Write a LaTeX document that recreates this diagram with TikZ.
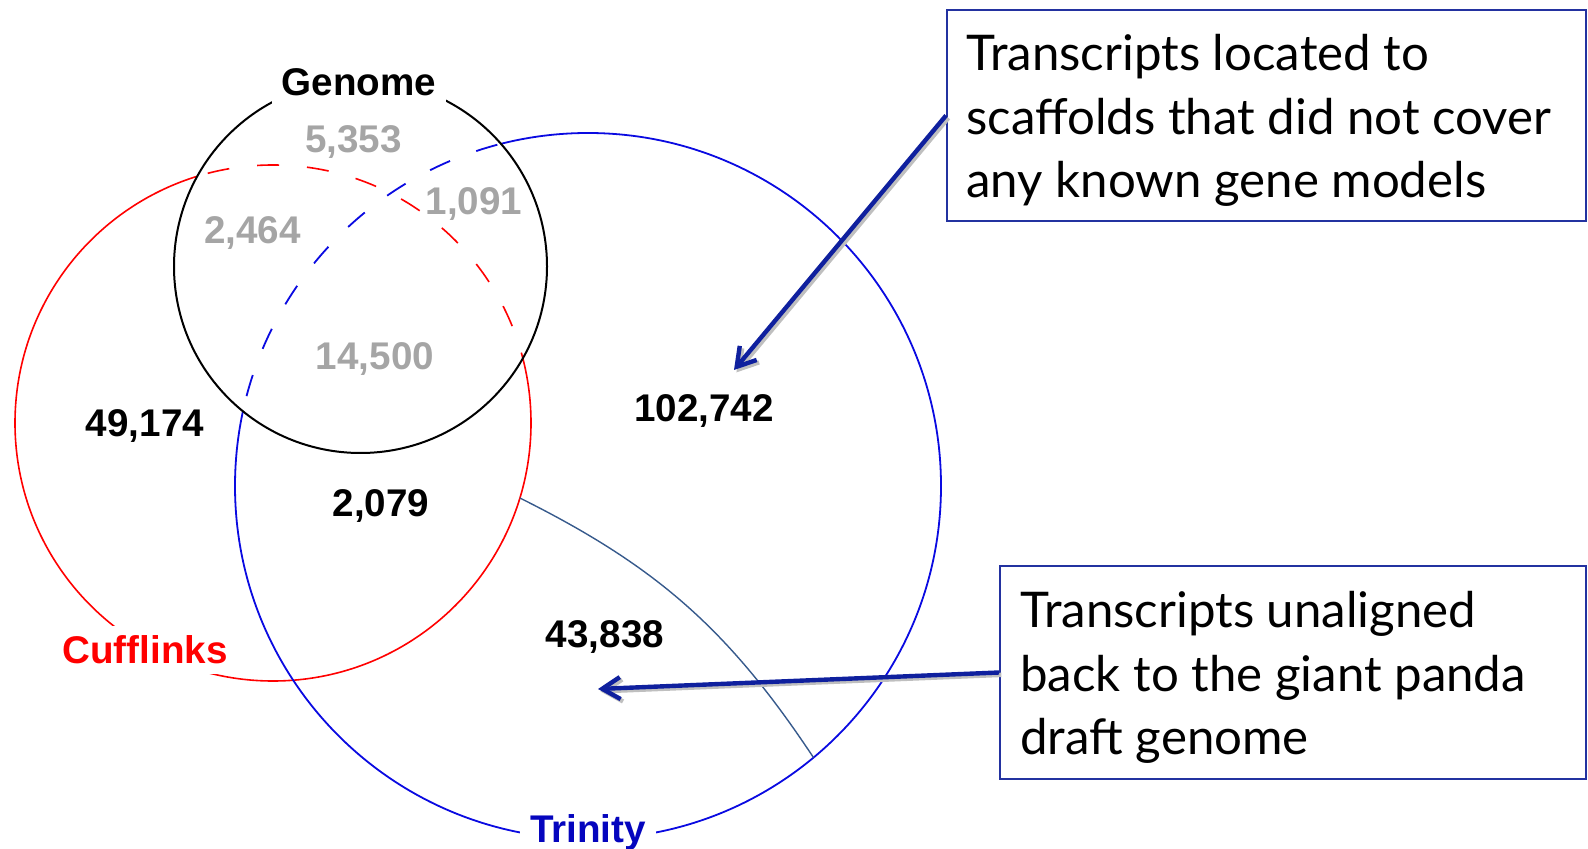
\documentclass[tikz,border=0pt]{standalone}
\usepackage{fontspec}
\setmainfont{Liberation Sans}
\newfontfamily\notefont{Lato}
\usetikzlibrary{arrows.meta,calc}

\definecolor{cuffred}{RGB}{255,0,0}
\definecolor{trinblue}{RGB}{10,10,225}
\definecolor{trinitytext}{RGB}{5,5,190}
\definecolor{splitblue}{RGB}{55,90,140}
\definecolor{notenavy}{RGB}{15,32,158}
\definecolor{boxnavy}{RGB}{35,50,160}
\definecolor{sharedgray}{RGB}{165,165,165}

\begin{document}
\begin{tikzpicture}[x=0.5pt,y=-0.5pt,
    count/.style={font=\fontsize{19.3}{22}\selectfont\bfseries},
    setlabel/.style={count,fill=white,inner sep=5pt},
    overlapdash/.style={dash pattern=on 11pt off 14pt},
    notebox/.style={draw=boxnavy,line width=1pt,anchor=north west},
    notetext/.style={anchor=north west,align=left,inner sep=0pt,
      font=\notefont\fontsize{24.6}{31.75}\selectfont},
    pointer/.style={draw=notenavy,line width=2.2pt,-{Straight Barb[length=9pt,width=11pt]}},
  ]
  \useasboundingbox (0,0) rectangle (1588,849);
  % Centres of the three sets
  \coordinate (genome) at (360.5,266.5);
  \coordinate (cuff) at (273,423);
  \coordinate (trin) at (588,486);
  % Outside the genome circle: solid
  \begin{scope}[even odd rule]
    \clip (-10,-10) rectangle (1600,860) (genome) circle[radius=186.5];
    \draw[cuffred,line width=0.8pt] (cuff) circle[radius=258];
    \draw[trinblue,line width=0.9pt] (trin) circle[radius=353];
  \end{scope}
  % Inside the genome circle: dashed
  \begin{scope}
    \clip (genome) circle[radius=186.5];
    \draw[cuffred,line width=0.8pt,overlapdash] (cuff) circle[radius=258];
    \draw[trinblue,line width=0.9pt,overlapdash] (trin) circle[radius=353];
  \end{scope}
  \draw[line width=1pt] (genome) circle[radius=186.5];
  % Split of the Trinity-only part
  \coordinate (splitstart) at ($(cuff)+(16.9:258)$);
  \coordinate (splitend) at ($(trin)+(50.3:353)$);
  \draw[splitblue,line width=0.7pt] (splitstart) to[bend left=15] (splitend);
  % Set names
  \node[setlabel] (genomelabel) at (359,82) {Genome};
  \node[setlabel,text=cuffred] (cufflabel) at (145,650) {Cufflinks};
  \node[setlabel,text=trinitytext] (trinlabel) at (588,833) {Trinity};
  % Counts
  \node[count,text=sharedgray] (gonly) at (353.5,142) {5,353};
  \node[count,text=sharedgray] (gtrin) at (474,204) {1,091};
  \node[count,text=sharedgray] (gcuff) at (252.5,233) {2,464};
  \node[count,text=sharedgray] (gall) at (375,359) {14,500};
  \node[count] (conly) at (145,426.5) {49,174};
  \node[count] (ctrin) at (381,506) {2,079};
  \node[count] (tonly) at (704,411) {102,742};
  \node[count] (tunal) at (605,637) {43,838};
  % Notes
  \node[notebox,minimum width=319.5pt,minimum height=105.5pt] (scafnote) at (946,9) {};
  \node[notetext] (scaftext) at (966,34)
    {Transcripts located to\\scaffolds that did not cover\\any known gene models};
  \node[notebox,minimum width=293pt,minimum height=106.5pt] (unalnote) at (999,565) {};
  \node[notetext] (unaltext) at (1020,591)
    {Transcripts unaligned\\back to the giant panda\\draft genome};
  \coordinate (scaftip) at (734,370);
  \coordinate (unaltip) at (598,689);
  \draw[pointer,draw=black!25,transform canvas={shift={(1.2pt,-1.2pt)}}] (scafnote.west) -- (scaftip);
  \draw[pointer,draw=black!25,transform canvas={shift={(1.2pt,-1.2pt)}}] (unalnote.west) -- (unaltip);
  \draw[pointer] (scafnote.west) -- (scaftip);
  \draw[pointer] (unalnote.west) -- (unaltip);
\end{tikzpicture}
\end{document}
